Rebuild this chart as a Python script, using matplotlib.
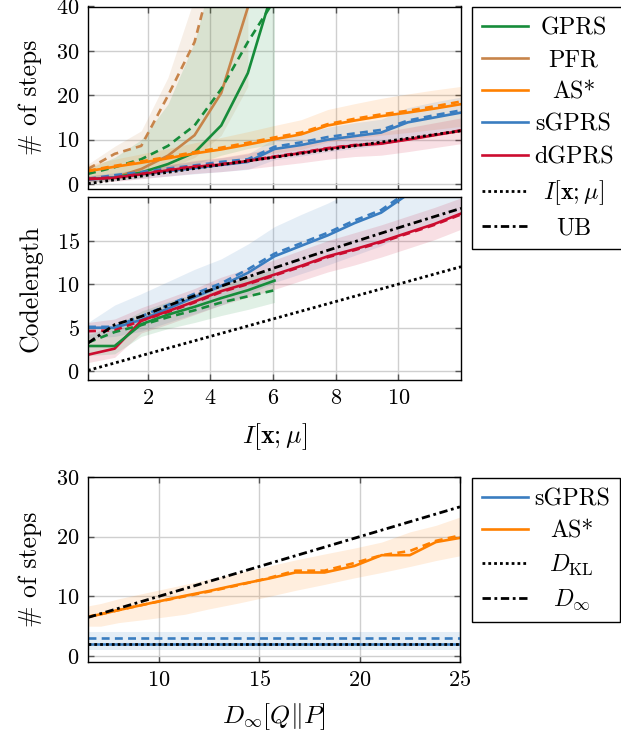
import matplotlib
matplotlib.use("Agg")
import matplotlib.pyplot as plt
from matplotlib.lines import Line2D

plt.rcParams['font.family'] = 'serif'
plt.rcParams['font.serif'] = ['cmr10', 'DejaVu Serif']
plt.rcParams['mathtext.fontset'] = 'cm'
plt.rcParams['axes.formatter.use_mathtext'] = True
plt.rcParams['axes.unicode_minus'] = False

# ---------------- data ----------------
I_x = [0.1, 0.95, 1.8, 2.65, 3.5, 4.35, 5.2, 6.05, 6.9, 7.75, 8.6, 9.45, 10.3, 11.15, 12.0]
I_gprs = [0.1, 0.95, 1.8, 2.65, 3.5, 4.35, 5.2, 6.05]
I_pfr = [0.1, 0.95, 1.8, 2.65, 3.5, 4.35, 5.2]
I_info = [0.1, 0.95, 1.8, 2.65, 3.5, 4.35, 5.2, 6.05, 6.9, 7.75, 8.6, 9.45, 10.3, 11.15, 12.0]

# steps (top panel): solid = one statistic, dashed = another
steps_gprs = [1.1, 1.5, 2.6, 4.5, 7.1, 13.2, 25.0, 45.0]
steps_gprs_d = [2.3, 3.8, 5.6, 8.6, 13.2, 21.4, 32.0, 41.5]
steps_gprs_lo = [0.3, 0.8, 1.5, 2.8, 4.5, 6.5, 8.0, 9.0]
steps_gprs_hi = [3.5, 6.0, 10.0, 18.0, 32.0, 55.0, 75.0, 95.0]

steps_pfr = [1.1, 1.5, 3.4, 6.4, 11.0, 20.5, 39.8]
steps_pfr_d = [3.4, 6.8, 8.6, 19.9, 32.0, 55.0, 80.0]
steps_pfr_lo = [0.5, 1.0, 2.0, 3.5, 6.0, 11.0, 22.0]
steps_pfr_hi = [4.5, 8.5, 12.0, 24.0, 42.0, 65.0, 90.0]

steps_as = [2.9, 3.9, 4.8, 5.8, 6.9, 7.8, 8.9, 10.1, 11.2, 13.2, 14.3, 15.3, 16.1, 17.0, 18.0]
steps_as_d = [3.0, 4.1, 5.1, 6.1, 7.2, 8.2, 9.3, 10.5, 11.6, 13.5, 14.7, 15.7, 16.5, 17.5, 18.6]
steps_as_lo = [1.5, 2.3, 3.0, 3.7, 4.5, 5.2, 6.0, 7.0, 7.8, 9.5, 10.3, 11.0, 11.6, 12.3, 13.0]
steps_as_hi = [4.3, 5.6, 6.8, 8.0, 9.3, 10.5, 11.8, 13.2, 14.5, 16.8, 18.1, 19.3, 20.3, 21.2, 22.0]

steps_sg = [1.0, 1.5, 2.2, 2.9, 3.6, 4.3, 5.0, 7.9, 8.8, 10.0, 10.8, 11.6, 13.9, 15.0, 16.1]
steps_sg_d = [1.2, 2.0, 2.7, 3.5, 4.2, 5.0, 5.6, 8.4, 9.4, 10.6, 11.4, 12.2, 14.3, 15.5, 16.6]
steps_sg_lo = [0.5, 0.8, 1.3, 1.8, 2.3, 2.8, 3.3, 5.5, 6.3, 7.3, 8.0, 8.8, 10.5, 11.3, 12.2]
steps_sg_hi = [1.8, 2.6, 3.4, 4.3, 5.1, 5.9, 6.8, 10.2, 11.4, 12.8, 13.8, 14.6, 17.2, 18.5, 19.6]

steps_dg = [1.1, 1.4, 2.2, 3.1, 3.9, 4.4, 5.2, 6.1, 7.0, 8.0, 8.7, 9.1, 10.0, 11.0, 12.0]
steps_dg_d = [1.2, 1.5, 2.3, 3.2, 4.0, 4.5, 5.3, 6.2, 7.1, 8.1, 8.8, 9.2, 10.1, 11.1, 12.1]
steps_dg_lo = [0.4, 0.6, 1.2, 1.8, 2.4, 2.8, 3.4, 4.1, 4.8, 5.6, 6.2, 6.5, 7.3, 8.2, 9.1]
steps_dg_hi = [1.9, 2.3, 3.2, 4.3, 5.3, 6.0, 7.0, 8.1, 9.2, 10.4, 11.2, 11.7, 12.7, 13.8, 14.9]

# codelength (middle panel)
code_gprs = [2.9, 2.9, 5.4, 6.5, 7.4, 8.4, 9.3, 10.4]
code_gprs_d = [3.3, 4.5, 5.3, 6.2, 7.0, 7.9, 8.6, 9.3]
code_gprs_lo = [1.8, 2.0, 4.0, 4.9, 5.6, 6.4, 7.1, 7.9]
code_gprs_hi = [4.2, 5.2, 6.9, 8.0, 8.9, 9.9, 10.8, 11.8]

code_sg = [5.0, 5.0, 5.9, 7.2, 8.5, 9.8, 11.3, 13.2, 14.4, 15.6, 17.0, 18.2, 20.3, 21.5, 22.7]
code_sg_d = [5.1, 5.1, 6.3, 7.6, 8.9, 10.1, 11.7, 13.5, 14.7, 15.9, 17.3, 18.5, 20.6, 21.8, 23.0]
code_sg_lo = [3.8, 4.0, 4.6, 5.6, 6.6, 7.6, 8.8, 10.2, 11.2, 12.2, 13.3, 14.4, 16.0, 17.0, 18.0]
code_sg_hi = [5.6, 7.6, 8.9, 10.3, 11.7, 12.9, 14.6, 16.6, 18.0, 19.3, 20.8, 22.0, 24.0, 25.4, 26.6]

code_dg = [1.9, 2.6, 5.8, 6.9, 8.0, 9.2, 10.1, 11.1, 12.1, 13.2, 14.0, 14.9, 15.9, 16.9, 18.1]
code_dg_d = [4.6, 4.7, 5.8, 6.8, 7.9, 9.1, 10.0, 11.0, 12.0, 13.1, 13.9, 14.8, 15.8, 16.8, 18.0]
code_dg_lo = [1.0, 1.6, 4.4, 5.4, 6.5, 7.6, 8.5, 9.4, 10.4, 11.4, 12.2, 13.1, 14.1, 15.1, 16.3]
code_dg_hi = [5.6, 6.0, 7.3, 8.4, 9.5, 10.8, 11.8, 12.8, 13.9, 15.0, 15.9, 16.8, 17.8, 18.8, 19.9]

upper_bound = [3.24, 5.35, 6.29, 7.52, 8.67, 9.77, 10.83, 11.87, 12.88, 13.88, 14.86, 15.84, 16.8, 17.75, 18.7]

# bottom panel
D_x = [6.47, 7.1, 8.0, 9.5, 11.3, 12.5, 14.0, 15.5, 16.8, 18.25, 19.75, 21.1, 22.5, 23.8, 25.0]
b_as = [6.55, 7.0, 7.7, 8.8, 10.1, 10.9, 12.0, 13.0, 14.0, 14.0, 15.1, 16.9, 16.9, 19.1, 19.8]
b_as_d = [6.6, 7.0, 7.7, 8.8, 10.0, 10.8, 11.9, 13.1, 14.3, 14.3, 15.6, 16.9, 17.6, 19.3, 20.2]
b_as_lo = [5.0, 5.0, 5.6, 6.2, 7.0, 7.9, 8.9, 10.0, 11.0, 12.0, 13.1, 14.0, 15.0, 16.0, 16.8]
b_as_hi = [8.4, 8.8, 9.6, 10.7, 12.0, 12.9, 14.0, 15.1, 16.1, 17.1, 18.1, 19.1, 20.8, 21.9, 23.3]
D_ends = [6.47, 25.0]
b_sg = [1.95, 1.95]
b_sg_d = [3.0, 3.0]
b_sg_lo = [1.0, 1.0]
b_sg_hi = [4.0, 4.0]
b_dkl = [2.1, 2.1]
b_dinf = [6.47, 25.0]

# ---------------- style ----------------
C_GPRS = '#168c3a'
C_PFR = '#c7844a'
C_AS = '#ff8000'
C_SG = '#3a7dc0'
C_DG = '#cc0c2f'

LW = 1.9
KLW = 2.0
DASH = (3.0, 2.0)
DOT = (1.0, 1.1)
DASHDOT = (3.0, 1.3, 1.0, 1.3)
FA = 0.13

fig = plt.figure(figsize=(6.21, 7.36), dpi=100)
L, W = 88 / 621, 373 / 621
ax1 = fig.add_axes([L, 1 - 188.5 / 736, W, 182 / 736])
ax2 = fig.add_axes([L, 1 - 380 / 736, W, 183 / 736])
ax3 = fig.add_axes([L, 1 - 662 / 736, W - 1 / 621, 185 / 736])

TICK_FS = 16
LAB_FS = 18.5
LEG_FS = 17.3


def style(ax):
    ax.grid(True, color='#cfcfcf', lw=1.0)
    ax.set_axisbelow(True)
    ax.tick_params(direction='in', top=True, right=True, length=4, width=1,
                   color='#555555', labelsize=TICK_FS, pad=6)
    for s in ax.spines.values():
        s.set_linewidth(1.0)
        s.set_color('black')


def band(ax, x, lo, hi, c):
    ax.fill_between(x, lo, hi, color=c, alpha=FA, lw=0)


def pair(ax, x, y, yd, c):
    ax.plot(x, yd, color=c, lw=LW, dashes=DASH, dash_capstyle='butt')
    ax.plot(x, y, color=c, lw=LW)


# top panel
band(ax1, I_pfr, steps_pfr_lo, steps_pfr_hi, C_PFR)
band(ax1, I_gprs, steps_gprs_lo, steps_gprs_hi, C_GPRS)
band(ax1, I_x, steps_as_lo, steps_as_hi, C_AS)
band(ax1, I_x, steps_sg_lo, steps_sg_hi, C_SG)
band(ax1, I_x, steps_dg_lo, steps_dg_hi, C_DG)
pair(ax1, I_pfr, steps_pfr, steps_pfr_d, C_PFR)
pair(ax1, I_gprs, steps_gprs, steps_gprs_d, C_GPRS)
pair(ax1, I_x, steps_as, steps_as_d, C_AS)
pair(ax1, I_x, steps_sg, steps_sg_d, C_SG)
pair(ax1, I_x, steps_dg, steps_dg_d, C_DG)
ax1.plot(I_x, I_info, color='black', lw=KLW, dashes=DOT, dash_capstyle='butt')
ax1.set_xlim(0.1, 12.0)
ax1.set_ylim(-1, 40)
ax1.set_xticks([2, 4, 6, 8, 10])
ax1.set_yticks([0, 10, 20, 30, 40])
ax1.set_ylabel('# of steps', fontsize=LAB_FS)
style(ax1)
ax1.tick_params(labelbottom=False)

# middle panel
band(ax2, I_x, code_sg_lo, code_sg_hi, C_SG)
band(ax2, I_x, code_dg_lo, code_dg_hi, C_DG)
band(ax2, I_gprs, code_gprs_lo, code_gprs_hi, C_GPRS)
pair(ax2, I_x, code_sg, code_sg_d, C_SG)
pair(ax2, I_x, code_dg, code_dg_d, C_DG)
pair(ax2, I_gprs, code_gprs, code_gprs_d, C_GPRS)
ax2.plot(I_x, I_info, color='black', lw=KLW, dashes=DOT, dash_capstyle='butt')
ax2.plot(I_x, upper_bound, color='black', lw=KLW, dashes=DASHDOT, dash_capstyle='butt')
ax2.set_xlim(0.1, 12.0)
ax2.set_ylim(-1, 20)
ax2.set_xticks([2, 4, 6, 8, 10])
ax2.set_yticks([0, 5, 10, 15])
ax2.set_ylabel('Codelength', fontsize=LAB_FS)
ax2.set_xlabel(r'$I[\mathbf{x};\mu]$', fontsize=LAB_FS)
style(ax2)

# bottom panel
band(ax3, D_ends, b_sg_lo, b_sg_hi, C_SG)
band(ax3, D_x, b_as_lo, b_as_hi, C_AS)
pair(ax3, D_ends, b_sg, b_sg_d, C_SG)
ax3.plot(D_ends, b_dkl, color='black', lw=KLW, dashes=DOT, dash_capstyle='butt')
pair(ax3, D_x, b_as, b_as_d, C_AS)
ax3.plot(D_ends, b_dinf, color='black', lw=KLW, dashes=DASHDOT, dash_capstyle='butt')
ax3.set_xlim(6.47, 25.0)
ax3.set_ylim(-1, 30)
ax3.set_xticks([10, 15, 20, 25])
ax3.set_yticks([0, 10, 20, 30])
ax3.set_ylabel('# of steps', fontsize=LAB_FS)
ax3.set_xlabel(r'$D_\infty[Q\|P]$', fontsize=LAB_FS)
style(ax3)

for ax in (ax1, ax2, ax3):
    ax.yaxis.set_label_coords(-0.155, 0.5)
    ax.yaxis.label.set_verticalalignment('center')
ax2.xaxis.set_label_coords(0.5, -57 / 183)
ax2.xaxis.label.set_verticalalignment('center')
ax3.xaxis.set_label_coords(0.5, -55 / 185)
ax3.xaxis.label.set_verticalalignment('center')


# legends
def h(c, dashes=None):
    if dashes is None:
        return Line2D([], [], color=c, lw=LW)
    return Line2D([], [], color=c, lw=KLW, dashes=dashes, dash_capstyle='butt')


leg_kw = dict(loc='upper left', fontsize=LEG_FS, frameon=True, fancybox=False,
              edgecolor='black', framealpha=1, handlelength=1.9, handletextpad=0.25,
              borderaxespad=0, borderpad=0.42)

leg1 = fig.legend([h(C_GPRS), h(C_PFR), h(C_AS), h(C_SG), h(C_DG), h('black', DOT), h('black', DASHDOT)],
                  ['GPRS', 'PFR', 'AS*', 'sGPRS', 'dGPRS', r'$I[\mathbf{x};\mu]$', 'UB'],
                  bbox_to_anchor=(472 / 621, 1 - 7 / 736), labelspacing=0.42, **leg_kw)
leg1.get_frame().set_linewidth(1.0)

leg2 = fig.legend([h(C_SG), h(C_AS), h('black', DOT), h('black', DASHDOT)],
                  ['sGPRS', 'AS*', r'$D_{\mathrm{KL}}$', r'$D_\infty$'],
                  bbox_to_anchor=(472 / 621, 1 - 478 / 736), labelspacing=0.42, **leg_kw)
leg2.get_frame().set_linewidth(1.0)

# center legend labels within their column (as in the original)
fig.canvas.draw()
renderer = fig.canvas.get_renderer()
for leg in (leg1, leg2):
    texts = leg.get_texts()
    widths = [t.get_window_extent(renderer).width for t in texts]
    wmax = max(widths)
    for t, w in zip(texts, widths):
        t.set_x((wmax - w) / 2.0)

fig.savefig('out.png', dpi=100)
